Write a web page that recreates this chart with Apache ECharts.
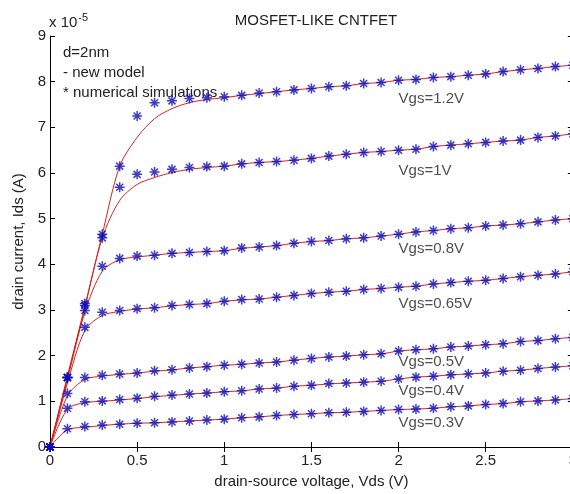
<!DOCTYPE html>
<html>
<head>
<meta charset="utf-8">
<script src="https://cdn.jsdelivr.net/npm/echarts@6/dist/echarts.min.js"></script>
<style>html,body{margin:0;padding:0;background:#fff;overflow:hidden;width:570px;height:494px;}#c{width:580px;height:494px;}</style>
</head>
<body>
<div id="c"></div>
<script>
// Vds values (V)
const vds = [0,0.1,0.2,0.3,0.4,0.5,0.6,0.7,0.8,0.9,1.0,1.1,1.2,1.3,1.4,1.5,1.6,1.7,1.8,1.9,2.0,2.1,2.2,2.3,2.4,2.5,2.6,2.7,2.8,2.9,3.0];
// numerical simulations (Ids, x 1e-5 A)
const sim12 = [0,1.52,3.14,4.66,6.15,7.25,7.54,7.58,7.63,7.65,7.67,7.70,7.75,7.78,7.82,7.85,7.89,7.91,7.96,7.98,8.03,8.05,8.09,8.11,8.14,8.17,8.22,8.26,8.29,8.33,8.36];
const sim10 = [0,1.52,3.10,4.58,5.69,5.97,6.02,6.08,6.12,6.14,6.15,6.20,6.23,6.25,6.28,6.32,6.37,6.41,6.45,6.47,6.50,6.52,6.58,6.61,6.64,6.67,6.70,6.72,6.78,6.81,6.86];
const sim08 = [0,1.52,2.99,3.96,4.13,4.18,4.20,4.24,4.26,4.28,4.30,4.36,4.38,4.41,4.46,4.50,4.52,4.56,4.58,4.62,4.66,4.71,4.74,4.78,4.80,4.84,4.86,4.89,4.93,4.97,5.00];
const sim065 = [0,1.52,2.62,2.95,2.99,3.03,3.05,3.10,3.12,3.14,3.19,3.23,3.24,3.28,3.32,3.36,3.39,3.41,3.45,3.47,3.50,3.52,3.57,3.60,3.63,3.65,3.69,3.73,3.76,3.79,3.84];
const sim05 = [0,1.17,1.52,1.57,1.60,1.62,1.67,1.69,1.73,1.76,1.79,1.81,1.84,1.86,1.90,1.94,1.97,1.99,2.02,2.04,2.10,2.13,2.15,2.19,2.21,2.24,2.26,2.31,2.33,2.37,2.40];
const sim04 = [0,0.85,0.99,1.01,1.04,1.07,1.11,1.14,1.16,1.18,1.21,1.23,1.27,1.29,1.33,1.35,1.39,1.40,1.42,1.44,1.49,1.53,1.55,1.58,1.60,1.62,1.66,1.68,1.72,1.75,1.78];
const sim03 = [0,0.40,0.45,0.48,0.50,0.52,0.53,0.55,0.57,0.59,0.61,0.64,0.66,0.69,0.71,0.73,0.75,0.76,0.78,0.80,0.82,0.83,0.85,0.88,0.90,0.93,0.95,0.99,1.01,1.03,1.06];
// new model (Ids, x 1e-5 A)
const mod12 = [0,1.55,3.08,4.66,6.15,6.78,7.19,7.41,7.54,7.61,7.65,7.70,7.74,7.78,7.82,7.85,7.89,7.91,7.96,7.98,8.03,8.05,8.09,8.11,8.14,8.17,8.22,8.26,8.29,8.33,8.36];
const mod10 = [0,1.52,3.05,4.58,5.40,5.75,5.90,6.01,6.08,6.12,6.15,6.20,6.23,6.25,6.28,6.32,6.37,6.41,6.45,6.47,6.50,6.52,6.58,6.61,6.64,6.67,6.70,6.72,6.78,6.81,6.86];
const mod08 = [0,1.48,2.95,3.85,4.10,4.16,4.20,4.24,4.26,4.28,4.30,4.35,4.38,4.41,4.46,4.50,4.52,4.56,4.58,4.62,4.66,4.71,4.74,4.78,4.80,4.84,4.86,4.89,4.93,4.97,5.00];
const mod065 = [0,1.40,2.55,2.88,2.97,3.02,3.05,3.09,3.12,3.14,3.19,3.22,3.24,3.28,3.32,3.36,3.39,3.41,3.45,3.47,3.50,3.52,3.57,3.60,3.63,3.65,3.69,3.73,3.76,3.79,3.84];
const mod05 = [0,1.12,1.48,1.55,1.59,1.62,1.66,1.69,1.73,1.76,1.79,1.81,1.84,1.86,1.90,1.94,1.97,1.99,2.02,2.04,2.10,2.13,2.15,2.19,2.21,2.24,2.26,2.31,2.33,2.37,2.40];
const mod04 = [0,0.83,0.97,1.00,1.03,1.06,1.10,1.13,1.16,1.18,1.21,1.23,1.27,1.29,1.33,1.35,1.38,1.40,1.42,1.44,1.49,1.53,1.55,1.58,1.60,1.62,1.66,1.68,1.72,1.75,1.78];
const mod03 = [0,0.38,0.43,0.47,0.50,0.52,0.53,0.55,0.57,0.59,0.61,0.64,0.66,0.69,0.71,0.73,0.75,0.76,0.78,0.80,0.82,0.83,0.85,0.88,0.90,0.93,0.95,0.99,1.01,1.03,1.06];
// curve labels
const labelTexts = ['Vgs=1.2V','Vgs=1V','Vgs=0.8V','Vgs=0.65V','Vgs=0.5V','Vgs=0.4V','Vgs=0.3V'];
const labelX = [2.0,2.0,2.0,2.0,2.0,2.0,2.0];
const labelY = [7.62,6.04,4.33,3.13,1.87,1.23,0.53];
const xTicks = ['0','0.5','1','1.5','2','2.5','3'];
const yTicks = ['0','1','2','3','4','5','6','7','8','9'];

const FONT = '"Liberation Sans", Arial, Helvetica, sans-serif';
const STAR = 'path://M0,-10L0,10M-10,0L10,0M-7,-7L7,7M-7,7L7,-7';
const sims = [sim12, sim10, sim08, sim065, sim05, sim04, sim03];
const mods = [mod12, mod10, mod08, mod065, mod05, mod04, mod03];
const zip = arr => vds.map((x, i) => [x, arr[i]]);

const series = [];
mods.forEach(m => series.push({
  type: 'line', data: zip(m), showSymbol: false, symbol: 'none', smooth: 0.3,
  lineStyle: { color: '#d82020', width: 1 }, z: 2, silent: true, animation: false
}));
sims.forEach(s => series.push({
  type: 'scatter', data: zip(s), symbol: STAR, symbolSize: 10,
  itemStyle: { color: 'rgba(0,0,0,0)', borderColor: '#0c0cb8', borderWidth: 1.5 },
  z: 3, silent: true, animation: false
}));
series.push({
  type: 'scatter', data: labelX.map((x, i) => ({ value: [x, labelY[i]], name: labelTexts[i] })),
  symbolSize: 0, silent: true, animation: false, z: 5,
  label: { show: true, position: 'right', distance: 0, formatter: p => p.name,
    color: '#222', fontSize: 15, fontFamily: FONT }
});

const chart = echarts.init(document.getElementById('c'), null, { renderer: 'canvas' });
chart.setOption({
  backgroundColor: '#fff',
  animation: false,
  title: {
    text: 'MOSFET-LIKE CNTFET', left: 311, top: 8, textAlign: 'center',
    textStyle: { fontSize: 15, fontWeight: 'normal', color: '#222', fontFamily: FONT }
  },
  graphic: [
    { type: 'text', left: 49, top: 12, style: {
      text: 'x 10{s|-5}', fill: '#222', font: '15px ' + FONT,
      rich: { s: { fontSize: 11, fontFamily: FONT, fill: '#222', verticalAlign: 'top', padding: [0,0,10,1] } } } },
    { type: 'text', left: 63, top: 45, style: { text: 'd=2nm', fill: '#222', font: '15px ' + FONT } },
    { type: 'text', left: 63, top: 65, style: { text: '- new model', fill: '#222', font: '15px ' + FONT } },
    { type: 'text', left: 63, top: 85, style: { text: '* numerical simulations', fill: '#222', font: '15px ' + FONT } }
  ],
  grid: { left: 50, top: 36, right: 6.5, bottom: 47, containLabel: false },
  xAxis: [{
    type: 'value', min: 0, max: 3, interval: 0.5,
    name: 'drain-source voltage, Vds (V)', nameLocation: 'middle', nameGap: 27,
    nameTextStyle: { fontSize: 15, color: '#222', fontFamily: FONT },
    axisLine: { show: true, lineStyle: { color: '#000', width: 1 } },
    axisTick: { show: true, inside: true, length: 5, lineStyle: { color: '#000' } },
    axisLabel: { fontSize: 15, color: '#222', margin: 6, fontFamily: FONT,
      formatter: v => xTicks[Math.round(v * 2)] },
    splitLine: { show: false }
  }, {
    type: 'value', position: 'top', min: 0, max: 3, interval: 0.5,
    axisLine: { show: true, lineStyle: { color: '#000', width: 1 } },
    axisTick: { show: true, inside: true, length: 5, lineStyle: { color: '#000' } },
    axisLabel: { show: false }, splitLine: { show: false }
  }],
  yAxis: [{
    type: 'value', min: 0, max: 9, interval: 1,
    name: 'drain current, Ids (A)', nameLocation: 'middle', nameGap: 22,
    nameTextStyle: { fontSize: 15, color: '#222', fontFamily: FONT },
    axisLine: { show: true, onZero: false, lineStyle: { color: '#000', width: 1 } },
    axisTick: { show: true, inside: true, length: 5, lineStyle: { color: '#000' } },
    axisLabel: { fontSize: 15, color: '#222', margin: 4, fontFamily: FONT,
      formatter: v => yTicks[Math.round(v)] },
    splitLine: { show: false }
  }, {
    type: 'value', position: 'right', min: 0, max: 9, interval: 1,
    axisLine: { show: true, onZero: false, lineStyle: { color: '#000', width: 1 } },
    axisTick: { show: true, inside: true, length: 5, lineStyle: { color: '#000' } },
    axisLabel: { show: false }, splitLine: { show: false }
  }],
  series: series
});
</script>
</body>
</html>
